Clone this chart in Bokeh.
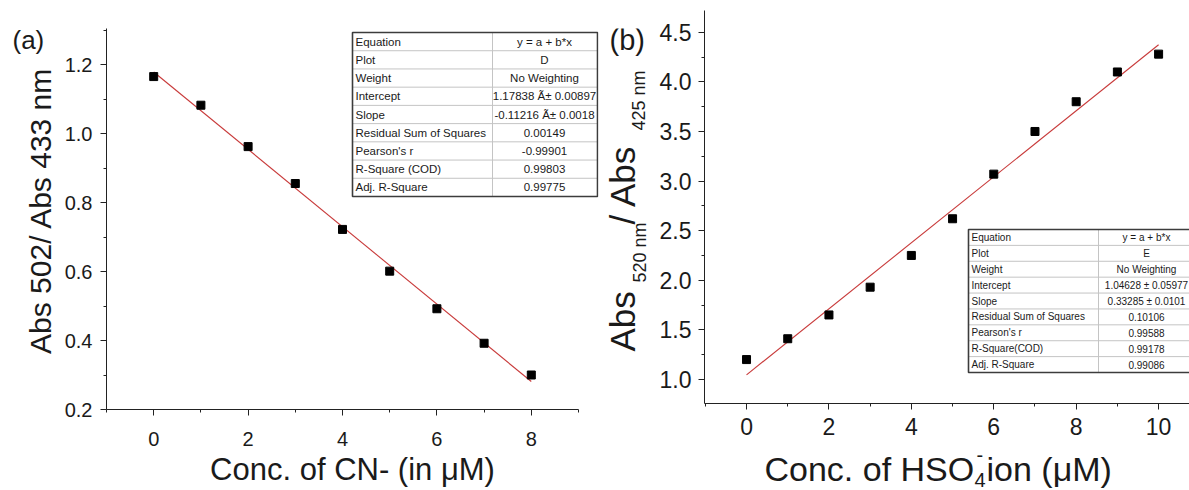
import math
from bokeh.plotting import figure
from bokeh.layouts import row, column
from bokeh.models import FixedTicker, Range1d, PrintfTickFormatter
from bokeh.core.properties import value
from bokeh.embed import file_html
from bokeh.resources import INLINE

# ---------------- data: panel (a) ----------------
cn_conc = [0, 1, 2, 3, 4, 5, 6, 7, 8]
abs_ratio_a = [1.165, 1.082, 0.962, 0.855, 0.722, 0.601, 0.492, 0.392, 0.300]
fit_a_intercept = 1.17838
fit_a_slope = -0.11216
a_x_ticks = [0, 2, 4, 6, 8]
a_x_minor = [-1, 1, 3, 5, 7, 9]
a_y_ticks = [0.2, 0.4, 0.6, 0.8, 1.0, 1.2]
a_y_minor = [0.3, 0.5, 0.7, 0.9, 1.1, 1.3]
table_a_params = ["Equation", "Plot", "Weight", "Intercept", "Slope",
                  "Residual Sum of Squares", "Pearson's r", "R-Square (COD)", "Adj. R-Square"]
table_a_values = ["y = a + b*x", "D", "No Weighting", "1.17838 \u00c3\u00b1 0.00897",
                  "-0.11216 \u00c3\u00b1 0.0018", "0.00149", "-0.99901", "0.99803", "0.99775"]

# ---------------- data: panel (b) ----------------
hso4_conc = [0, 1, 2, 3, 4, 5, 6, 7, 8, 9, 10]
abs_ratio_b = [1.20, 1.41, 1.65, 1.93, 2.25, 2.62, 3.07, 3.50, 3.80, 4.10, 4.28]
fit_b_intercept = 1.04628
fit_b_slope = 0.33285
b_x_ticks = [0, 2, 4, 6, 8, 10]
b_x_minor = [-1, 1, 3, 5, 7, 9]
b_y_ticks = [1.0, 1.5, 2.0, 2.5, 3.0, 3.5, 4.0, 4.5]
b_y_minor = [1.25, 1.75, 2.25, 2.75, 3.25, 3.75, 4.25]
table_b_params = ["Equation", "Plot", "Weight", "Intercept", "Slope",
                  "Residual Sum of Squares", "Pearson's r", "R-Square(COD)", "Adj. R-Square"]
table_b_values = ["y = a + b*x", "E", "No Weighting", "1.04628 \u00b1 0.05977",
                  "0.33285 \u00b1 0.0101", "0.10106", "0.99588", "0.99178", "0.99086"]

FONT = "Liberation Sans"
TXT = "#1a1a1a"
FIT_COLOR = "#c83a3a"
H = 490


def make_conv(L, R, T, B, xr, yr):
    """window-pixel -> data coordinates for a figure whose frame is L..R, T..B"""
    def cx(px):
        return xr[0] + (px - L) * (xr[1] - xr[0]) / (R - L)

    def cy(py):
        return yr[0] + (B - py) * (yr[1] - yr[0]) / (B - T)
    return cx, cy


def style_axes(p, xt, xm, yt, ym, xfs, yfs):
    for ax, t, m, fs in ((p.xaxis[0], xt, xm, xfs), (p.yaxis[0], yt, ym, yfs)):
        ax.ticker = FixedTicker(ticks=t, minor_ticks=m)
        ax.major_tick_out = 6
        ax.major_tick_in = 0
        ax.minor_tick_out = 3
        ax.minor_tick_in = 0
        ax.axis_line_color = "#222222"
        ax.major_tick_line_color = "#222222"
        ax.minor_tick_line_color = "#222222"
        ax.major_label_text_font = FONT
        ax.major_label_text_font_size = fs
        ax.major_label_text_color = TXT
        ax.axis_label_text_font = FONT
        ax.axis_label_text_font_style = "normal"
        ax.axis_label_text_color = TXT
    p.yaxis[0].formatter = PrintfTickFormatter(format="%.1f")
    p.xgrid.visible = False
    p.ygrid.visible = False
    p.outline_line_color = None


def draw_table(p, cx, cy, left, top, split, right, bottom, params, vals, fs, val_center):
    n = len(params)
    rh = (bottom - top) / n
    p.quad(left=[cx(left)], right=[cx(right)], top=[cy(top)], bottom=[cy(bottom)],
           fill_color="white", line_color=None)
    ys = [top + rh * i for i in range(1, n)]
    p.segment(x0=[cx(left)] * len(ys), x1=[cx(right)] * len(ys),
              y0=[cy(y) for y in ys], y1=[cy(y) for y in ys],
              line_color="#c4c4c4", line_width=1)
    p.segment(x0=[cx(split)], x1=[cx(split)], y0=[cy(top)], y1=[cy(bottom)],
              line_color="#c4c4c4", line_width=1)
    p.quad(left=[cx(left)], right=[cx(right)], top=[cy(top)], bottom=[cy(bottom)],
           fill_color=None, line_color="#3c3c3c", line_width=1.6)
    ymid = [cy(top + rh * (i + 0.5)) for i in range(n)]
    p.text(x=[cx(left + 3)] * n, y=ymid, text=params, text_align="left",
           text_baseline="middle", text_font=value(FONT), text_font_size=fs, text_color=TXT)
    p.text(x=[cx(val_center)] * n, y=ymid, text=vals, text_align="center",
           text_baseline="middle", text_font=value(FONT), text_font_size=fs, text_color=TXT)


class Aux:
    """axis-less figure whose frame spans window pixels L..R x T..B; texts placed by window pixels"""

    def __init__(self, width, height, L, R, T, B, ox, oy):
        self.L, self.T, self.B = L, T, B
        self.fig = figure(width=width, height=height,
                          x_range=Range1d(L, R), y_range=Range1d(0, B - T),
                          output_backend="svg", toolbar_location=None,
                          min_border_left=L - ox, min_border_right=ox + width - R,
                          min_border_top=T - oy, min_border_bottom=oy + height - B,
                          x_axis_type=None, y_axis_type=None)
        self.fig.outline_line_color = None

    def text(self, px, py, txt, fs, angle=0.0, align="left"):
        # py is the vertical middle of the text line
        self.fig.text(x=[px], y=[self.B - py], text=[txt], angle=angle, text_align=align,
                      text_baseline="middle", text_font=value(FONT), text_font_size=fs,
                      text_color=TXT)


UP = math.pi / 2

# ======================= panel (a) =======================
A_L, A_R, A_T, A_B = 106, 598, 28, 409
LA_W = 56
auxA = Aux(LA_W, H, 0, LA_W, A_T, A_B, 0, 0)
auxA.text(12, 39.5, "(a)", "26px")
auxA.text(39.5, 210, "Abs 502/ Abs 433 nm", "30px", angle=UP, align="center")

xa = (-1.0, 9.0 + 20 / 47.2)
ya = (0.2, 1.2 + 36 / 345)
pA = figure(width=600 - LA_W, height=H, x_range=Range1d(*xa), y_range=Range1d(*ya),
            output_backend="svg", toolbar_location=None,
            min_border_left=A_L - LA_W, min_border_right=600 - A_R, min_border_top=A_T,
            min_border_bottom=H - A_B, background_fill_color="white")
style_axes(pA, a_x_ticks, a_x_minor, a_y_ticks, a_y_minor, "20px", "20px")
pA.xaxis.bounds = (-1, 9)
pA.xaxis.major_label_standoff = 16
pA.yaxis.major_label_standoff = 8
pA.xaxis.axis_label = "Conc. of CN- (in \u03bcM)"
pA.xaxis.axis_label_text_font_size = "31px"
pA.xaxis.axis_label_standoff = 3

cxa, cya = make_conv(A_L, A_R, A_T, A_B, xa, ya)
fit_a_x = [cn_conc[0], cn_conc[-1]]
fit_a_y = [fit_a_intercept + fit_a_slope * v for v in fit_a_x]
pA.line(fit_a_x, fit_a_y, line_color=FIT_COLOR, line_width=1.1)
pA.scatter(cn_conc, abs_ratio_a, marker="square", size=8, fill_color="black", line_color="black")
draw_table(pA, cxa, cya, 352, 32, 492, 597, 196, table_a_params, table_a_values, "11.5px", 544)

# ======================= panel (b) =======================
LB_X, LB_W = 600, 52
auxB = Aux(LB_W, H, LB_X, LB_X + LB_W, A_T, A_B, LB_X, 0)
auxB.text(609, 39.5, "(b)", "29px")
auxB.text(621.5, 351, "Abs", "35px", angle=UP)
auxB.text(639.5, 282, "520 nm", "18px", angle=UP)
auxB.text(621.5, 224, "/ Abs", "35px", angle=UP)
auxB.text(638.5, 130, "425 nm", "18px", angle=UP)

PB_X = LB_X + LB_W
PB_W = 1189 - PB_X
PB_H = 444
B_L, B_R, B_T, B_B = 704, 1189, 10, 403
xb = (-1.02, 10.75)
yb = (0.757, 4.72)
pB = figure(width=PB_W, height=PB_H, x_range=Range1d(*xb), y_range=Range1d(*yb),
            output_backend="svg", toolbar_location=None,
            min_border_left=B_L - PB_X, min_border_right=0, min_border_top=B_T,
            min_border_bottom=PB_H - B_B, background_fill_color="white")
style_axes(pB, b_x_ticks, b_x_minor, b_y_ticks, b_y_minor, "23px", "23px")
pB.xaxis.major_label_standoff = 8
pB.yaxis.major_label_standoff = 7

cxb, cyb = make_conv(B_L, B_R, B_T, B_B, xb, yb)
fit_b_x = [hso4_conc[0], hso4_conc[-1]]
fit_b_y = [fit_b_intercept + fit_b_slope * v for v in fit_b_x]
pB.line(fit_b_x, fit_b_y, line_color=FIT_COLOR, line_width=1.1)
pB.scatter(hso4_conc, abs_ratio_b, marker="square", size=8, fill_color="black", line_color="black")
draw_table(pB, cxb, cyb, 968, 229, 1098, 1197, 372, table_b_params, table_b_values, "10px", 1146)

# x title of panel (b): Conc. of HSO4^- ion (uM)
BT_H = H - PB_H
auxT = Aux(PB_W, BT_H, B_L, B_R, PB_H, H, PB_X, PB_H)
auxT.text(764, 468.5, "Conc. of HSO", "34px")
auxT.text(974, 479.5, "4", "20px")
auxT.text(976, 454.5, "-", "20px")
auxT.text(986, 468.5, " ion (\u03bcM)", "34px")

layout = row(auxA.fig, pA, auxB.fig, column(pB, auxT.fig))
open("out.html", "w").write(file_html(layout, INLINE))
